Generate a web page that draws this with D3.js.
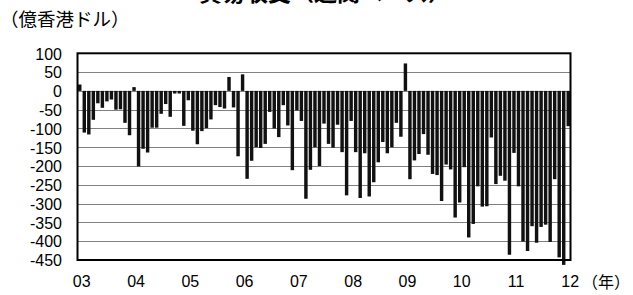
<!DOCTYPE html>
<html><head><meta charset="utf-8">
<script src="https://cdn.jsdelivr.net/npm/d3@7"></script>
<style>
html,body{margin:0;padding:0;background:#fff;}
svg{display:block;}
.num{font-family:"Liberation Sans",Arial,sans-serif;font-size:16px;fill:#000;}
.jp{font-family:"Noto Sans CJK JP",sans-serif;fill:#000;}
</style></head>
<body><svg id="c" width="633" height="295"></svg>
<script>
const title = "貿易収支（通関ベース）";
const unitLabel = "（億香港ドル）";
const yearUnit = "（年）";
const yearLabels = ["03","04","05","06","07","08","09","10","11","12"];
const yTicks = [100,50,0,-50,-100,-150,-200,-250,-300,-350,-400,-450];
// monthly trade balance, Jan 2003 - Jan 2012 (HK$100 million)
const values = [
  17,-111,-116,-77,-33,-45,-28,-23,-50,-49,-85,-118,
  10,-201,-154,-164,-98,-98,-61,-35,-69,-7,-7,-93,
  -25,-106,-142,-107,-99,-76,-38,-43,-47,37,-44,-174,
  44,-234,-186,-150,-152,-141,-56,-100,-123,-38,-92,-211,
  -52,-80,-287,-210,-150,-200,-87,-141,-151,-90,-163,-278,
  -80,-163,-285,-166,-281,-243,-190,-136,-166,-150,-85,-122,
  73,-235,-185,-168,-115,-170,-221,-224,-293,-196,-209,-337,
  -297,-203,-390,-354,-254,-308,-307,-124,-248,-226,-239,-436,
  -165,-254,-401,-426,-360,-404,-362,-356,-402,-235,-443,-463,
  -94
];
const months = values.map((v,i)=>i);

const svg = d3.select("#c");
const L=77.5, R=570.5, T=53.3, B=260;
const x = d3.scaleBand().domain(months).range([L,R]).paddingInner(0.24).paddingOuter(0.12);
const y = d3.scaleLinear().domain([-450,100]).range([B,T]);

// gridlines
svg.append("g").selectAll("line").data(yTicks).join("line")
  .attr("x1",L).attr("x2",R)
  .attr("y1",d=>Math.round(y(d))+0.5).attr("y2",d=>Math.round(y(d))+0.5)
  .attr("stroke","#808080").attr("stroke-width",1);

// bars
svg.append("g").selectAll("rect").data(values).join("rect")
  .attr("x",(d,i)=>x(i)).attr("width",x.bandwidth())
  .attr("y",d=>y(Math.max(0,d))).attr("height",d=>Math.abs(y(d)-y(0)))
  .attr("fill","#111");

// frame
svg.append("rect").attr("x",L).attr("y",T).attr("width",R-L).attr("height",B-T)
  .attr("fill","none").attr("stroke","#000").attr("stroke-width",2);

// y axis labels
const yAxis = d3.axisLeft(y).tickValues(yTicks).tickSize(0).tickPadding(0).tickFormat(d=>d);
const gy = svg.append("g").attr("transform",`translate(62,0)`).call(yAxis);
gy.select(".domain").remove();
gy.selectAll("text").attr("class","num").attr("font-family",null).attr("font-size",null).attr("dy","0.36em").attr("x",0);

// x axis labels at January of each year
const janIdx = yearLabels.map((d,i)=>i*12);
const xAxis = d3.axisBottom(x).tickValues(janIdx).tickSize(0).tickPadding(0).tickFormat((d,i)=>yearLabels[i]);
const gx = svg.append("g").attr("transform",`translate(2,281)`).call(xAxis);
gx.select(".domain").remove();
gx.selectAll("text").attr("class","num").attr("font-family",null).attr("font-size",null).attr("dy","0.36em").attr("y",0);

svg.append("text").attr("class","jp").attr("x",582).attr("y",282).attr("dy","0.36em")
  .attr("font-size",16).text(yearUnit);
svg.append("text").attr("class","jp").attr("x",0).attr("y",19).attr("dy","0.36em")
  .attr("font-size",18.5).text(unitLabel);
svg.append("text").attr("class","jp").attr("x",325).attr("y",1).attr("text-anchor","middle")
  .attr("font-size",23).attr("font-weight","bold").text(title);
</script></body></html>
